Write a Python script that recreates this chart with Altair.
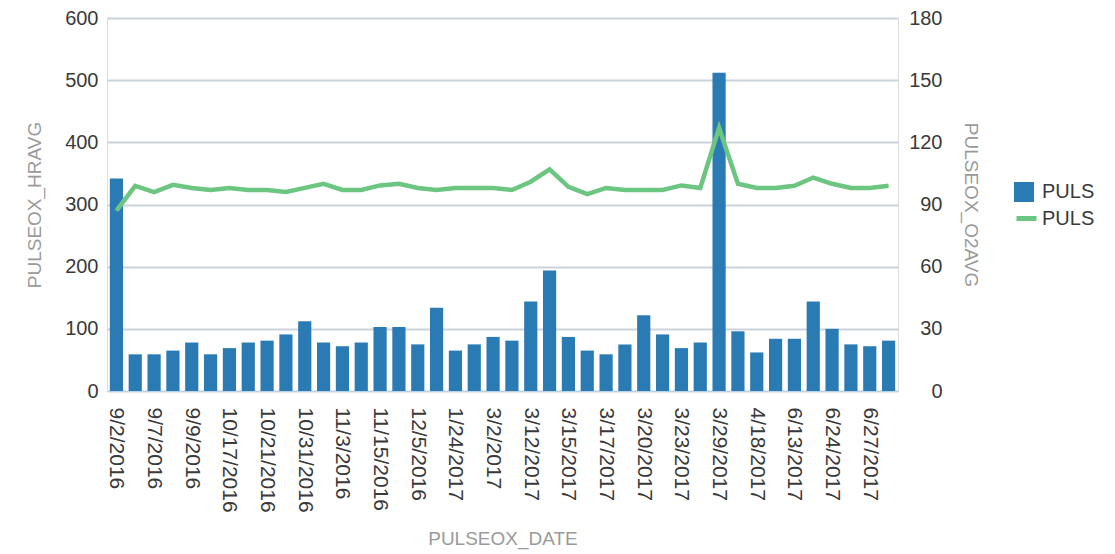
import altair as alt
import pandas as pd

dates = ["9/2/2016", "9/5/2016", "9/7/2016", "9/8/2016", "9/9/2016", "9/12/2016",
         "10/17/2016", "10/19/2016", "10/21/2016", "10/26/2016", "10/31/2016", "11/1/2016",
         "11/3/2016", "11/9/2016", "11/15/2016", "11/28/2016", "12/5/2016", "1/10/2017",
         "1/24/2017", "2/14/2017", "3/2/2017", "3/8/2017", "3/12/2017", "3/14/2017",
         "3/15/2017", "3/16/2017", "3/17/2017", "3/18/2017", "3/20/2017", "3/22/2017",
         "3/23/2017", "3/27/2017", "3/29/2017", "4/3/2017", "4/18/2017", "5/30/2017",
         "6/13/2017", "6/20/2017", "6/24/2017", "6/26/2017", "6/27/2017", "6/29/2017"]

hr_avg = [342, 59, 59, 65, 78, 59, 69, 78, 81, 91, 112, 78,
          72, 78, 103, 103, 75, 134, 65, 75, 87, 81, 144, 194,
          87, 65, 59, 75, 122, 91, 69, 78, 512, 96, 62, 84,
          84, 144, 100, 75, 72, 81]

o2_avg = [87, 99, 96, 99.5, 98, 97, 98, 97, 97, 96, 98, 100,
          97, 97, 99.2, 100, 98, 97, 98, 98, 98, 97, 101, 107,
          98.5, 95, 98, 97, 97, 97, 99.2, 98, 127, 100, 98, 98,
          99, 103, 100, 98, 98, 99]

shown_labels = dates[::2]

df = pd.DataFrame({
    "PULSEOX_DATE": dates,
    "PULSEOX_HRAVG": hr_avg,
    "PULSEOX_O2AVG": o2_avg,
    "s1": ["PULS"] * len(dates),
    "s2": ["PULS "] * len(dates),
})

BLUE = "#2a7ab4"
GREEN = "#6cc580"
FONT = "Liberation Sans"
LABEL_C = "#3a3a3a"
TITLE_C = "#9a9a9a"

x = alt.X("PULSEOX_DATE:N", sort=dates,
          scale=alt.Scale(paddingInner=0.3, paddingOuter=0.15),
          axis=alt.Axis(values=shown_labels, labelAngle=90, labelAlign="left",
                        labelBaseline="middle", labelPadding=16, ticks=False,
                        domainColor="#b7d2ea", domainWidth=1,
                        labelFontSize=21, labelColor=LABEL_C, labelFont=FONT,
                        title="PULSEOX_DATE", titleFontSize=19, titleColor=TITLE_C,
                        titleFont=FONT, titleFontWeight="normal", titlePadding=17))

bars = alt.Chart(df).mark_bar().encode(
    x=x,
    y=alt.Y("PULSEOX_HRAVG:Q", scale=alt.Scale(domain=[0, 600]),
            axis=alt.Axis(values=[0, 100, 200, 300, 400, 500, 600], orient="left",
                          ticks=False, domain=False, grid=True, gridColor="#cbd3dd",
                          gridWidth=2, labelPadding=9, labelFontSize=20,
                          labelColor=LABEL_C, labelFont=FONT,
                          title="PULSEOX_HRAVG", titleFontSize=19, titleColor=TITLE_C,
                          titleFont=FONT, titleFontWeight="normal", titlePadding=20)),
    fill=alt.Fill("s1:N", scale=alt.Scale(domain=["PULS"], range=[BLUE]),
                  legend=alt.Legend(title=None, orient="none", legendX=907, legendY=164,
                                    symbolType="square", symbolSize=400,
                                    symbolStrokeWidth=0, labelOffset=8,
                                    labelFontSize=20, labelFont=FONT, labelColor=LABEL_C,
                                    padding=0)),
)

line = alt.Chart(df).mark_line(strokeWidth=4.5).encode(
    x=x,
    y=alt.Y("PULSEOX_O2AVG:Q", scale=alt.Scale(domain=[0, 180]),
            axis=alt.Axis(values=[0, 30, 60, 90, 120, 150, 180], orient="right",
                          ticks=False, domain=False, grid=False, labelAlign="right",
                          labelPadding=44, labelFontSize=20,
                          labelColor=LABEL_C, labelFont=FONT,
                          title="PULSEOX_O2AVG", titleAngle=90, titleFontSize=19,
                          titleColor=TITLE_C, titleFont=FONT,
                          titleFontWeight="normal", titlePadding=18)),
    stroke=alt.Stroke("s2:N", scale=alt.Scale(domain=["PULS "], range=[GREEN]),
                      legend=alt.Legend(title=None, orient="none", legendX=907, legendY=188,
                                        symbolType="stroke", symbolSize=400,
                                        symbolStrokeWidth=5, labelOffset=3,
                                        labelFontSize=20, labelFont=FONT,
                                        labelColor=LABEL_C, padding=0)),
)

chart = alt.layer(bars, line).resolve_scale(y="independent").properties(
    width=791, height=373,
    padding={"left": 17, "top": 0, "right": 5, "bottom": 5},
).configure_view(stroke=None).configure(background="white")

chart.save("out.html", embed_options={"renderer": "svg", "actions": False})
